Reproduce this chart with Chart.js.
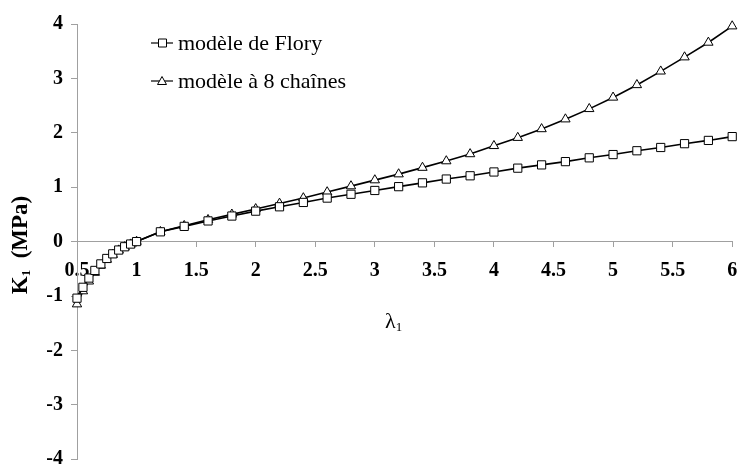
<!DOCTYPE html>
<html>
<head>
<meta charset="utf-8">
<script src="https://cdn.jsdelivr.net/npm/chart.js@4.4.0/dist/chart.umd.min.js"></script>
<style>
  html, body { margin: 0; padding: 0; background: #fff; }
  #wrap { width: 739px; height: 466px; }
</style>
</head>
<body>
<div id="wrap"><canvas id="grafico-k1"></canvas></div>
<script>
// elongation λ1 : pas de 0.05 jusqu'à 1, puis pas de 0.2
var lambdas = [0.5, 0.55, 0.6, 0.65, 0.7, 0.75, 0.8, 0.85, 0.9, 0.95, 1.0,
  1.2, 1.4, 1.6, 1.8, 2.0, 2.2, 2.4, 2.6, 2.8, 3.0, 3.2, 3.4, 3.6, 3.8, 4.0,
  4.2, 4.4, 4.6, 4.8, 5.0, 5.2, 5.4, 5.6, 5.8, 6.0];

// K1 (MPa) - modèle de Flory
var k1Flory = [-1.04, -0.84, -0.67, -0.53, -0.41, -0.31, -0.225, -0.155, -0.095, -0.045, 0.0,
  0.18, 0.28, 0.38, 0.47, 0.56, 0.64, 0.72, 0.80, 0.87, 0.94, 1.01, 1.08, 1.15, 1.21, 1.28,
  1.35, 1.41, 1.47, 1.54, 1.60, 1.67, 1.73, 1.80, 1.86, 1.93];

// K1 (MPa) - modèle à 8 chaînes
var k1HuitChaines = [-1.15, -0.91, -0.73, -0.57, -0.44, -0.33, -0.24, -0.16, -0.10, -0.05, 0.0,
  0.18, 0.29, 0.40, 0.50, 0.60, 0.70, 0.80, 0.91, 1.02, 1.13, 1.24, 1.36, 1.48, 1.61, 1.76,
  1.91, 2.07, 2.25, 2.44, 2.65, 2.88, 3.13, 3.39, 3.66, 3.96];

var seriesNoms = ["modèle de Flory", "modèle à 8 chaînes"];

var xTicks = [0.5, 1, 1.5, 2, 2.5, 3, 3.5, 4, 4.5, 5, 5.5, 6];
var xTickLabels = ["0.5", "1", "1.5", "2", "2.5", "3", "3.5", "4", "4.5", "5", "5.5", "6"];
var yTicks = [-4, -3, -2, -1, 0, 1, 2, 3, 4];
var yTickLabels = ["-4", "-3", "-2", "-1", "0", "1", "2", "3", "4"];

function points(valeurs) {
  return lambdas.map(function (l, i) { return { x: l, y: valeurs[i] }; });
}

var police = "'Liberation Serif', 'Times New Roman', serif";
var gris = "#a0a0a0";

// titres des axes et légende dessinés dans le graphique
var textes = {
  id: "textes",
  afterDraw: function (chart) {
    var ctx = chart.ctx;
    ctx.save();
    ctx.fillStyle = "#000";
    ctx.strokeStyle = "#000";
    ctx.textBaseline = "middle";

    // légende
    var lignes = [43, 81];
    var styles = ["rect", "triangle"];
    for (var i = 0; i < 2; i++) {
      var ly = lignes[i];
      ctx.lineWidth = 1.2;
      ctx.beginPath();
      ctx.moveTo(151, ly);
      ctx.lineTo(173, ly);
      ctx.stroke();
      ctx.fillStyle = "#fff";
      ctx.lineWidth = 1;
      ctx.beginPath();
      if (styles[i] === "rect") {
        ctx.rect(158.5, ly - 4, 8, 8);
      } else {
        ctx.moveTo(162, ly - 4.5);
        ctx.lineTo(166.5, ly + 3.5);
        ctx.lineTo(157.5, ly + 3.5);
        ctx.closePath();
      }
      ctx.fill();
      ctx.stroke();
      ctx.fillStyle = "#000";
      ctx.font = "22px " + police;
      ctx.textAlign = "left";
      ctx.fillText(seriesNoms[i], 178, ly + 1);
    }

    // titre axe x : λ1
    ctx.font = "22px " + police;
    ctx.fillText("λ", 385, 322);
    var wl = ctx.measureText("λ").width;
    ctx.font = "13px " + police;
    ctx.fillText("1", 385 + wl, 328);

    // titre axe y : K1 (MPa)
    ctx.translate(21, 245);
    ctx.rotate(-Math.PI / 2);
    ctx.font = "bold 23px " + police;
    var wK = ctx.measureText("K").width;
    var wR = ctx.measureText("  (MPa)").width;
    ctx.font = "bold 13px " + police;
    var w1 = ctx.measureText("1").width;
    var x0 = -(wK + w1 + wR) / 2;
    ctx.font = "bold 23px " + police;
    ctx.fillText("K", x0, 0);
    ctx.font = "bold 13px " + police;
    ctx.fillText("1", x0 + wK, 6);
    ctx.font = "bold 23px " + police;
    ctx.fillText("  (MPa)", x0 + wK + w1, 0);
    ctx.restore();
  }
};

var ctx = document.getElementById("grafico-k1").getContext("2d");

var graficoK1 = new Chart(ctx, {
  type: "scatter",
  data: {
    datasets: [
      {
        label: seriesNoms[0],
        data: points(k1Flory),
        showLine: true,
        clip: false,
        borderColor: "#000",
        borderWidth: 1.6,
        pointStyle: "rect",
        pointRadius: 5.8,
        pointBorderWidth: 1,
        pointBackgroundColor: "#fff",
        pointBorderColor: "#000",
      },
      {
        label: seriesNoms[1],
        data: points(k1HuitChaines),
        showLine: true,
        clip: false,
        borderColor: "#000",
        borderWidth: 1.6,
        pointStyle: "triangle",
        pointRadius: 5.4,
        pointBorderWidth: 1,
        pointBackgroundColor: "#fff",
        pointBorderColor: "#000",
      },
    ],
  },
  options: {
    responsive: true,
    maintainAspectRatio: false,
    animation: false,
    layout: { padding: { top: 24, right: 5, bottom: 5, left: 0 } },
    plugins: { legend: { display: false }, tooltip: { enabled: false } },
    scales: {
      x: {
        type: "linear",
        position: { y: 0 },
        min: 0.5,
        max: 6,
        afterBuildTicks: function (s) {
          s.ticks = xTicks.map(function (v) { return { value: v }; });
        },
        afterFit: function (s) {
          s.height = 0;
          s.paddingLeft = 0;
          s.paddingRight = 0;
        },
        ticks: {
          autoSkip: false,
          maxRotation: 0,
          padding: 12,
          color: "#000",
          font: { family: police, size: 20, weight: "bold" },
          callback: function (v) {
            var i = xTicks.indexOf(v);
            return i >= 0 ? xTickLabels[i] : "";
          },
        },
        grid: { drawOnChartArea: false, drawTicks: true, tickLength: 5, color: gris },
        border: { display: true, color: gris, width: 1 },
      },
      y: {
        type: "linear",
        min: -4,
        max: 4,
        afterBuildTicks: function (s) {
          s.ticks = yTicks.map(function (v) { return { value: v }; });
        },
        afterFit: function (s) {
          s.width = 77;
          s.paddingTop = 0;
          s.paddingBottom = 0;
        },
        ticks: {
          padding: 8,
          color: "#000",
          font: { family: police, size: 20, weight: "bold" },
          callback: function (v) {
            var i = yTicks.indexOf(v);
            return i >= 0 ? yTickLabels[i] : "";
          },
        },
        grid: { drawOnChartArea: false, drawTicks: true, tickLength: 6, color: gris },
        border: { display: true, color: gris, width: 1 },
      },
    },
  },
  plugins: [textes],
});
</script>
</body>
</html>
